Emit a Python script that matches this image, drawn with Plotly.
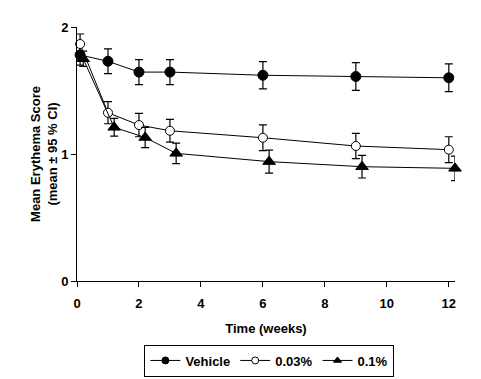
import plotly.graph_objects as go

weeks_vehicle = [0.1, 1.0, 2.0, 3.0, 6.0, 9.0, 12.0]
vehicle = [1.78, 1.73, 1.645, 1.645, 1.62, 1.61, 1.60]
vehicle_ci = [0.08, 0.097, 0.098, 0.098, 0.107, 0.109, 0.109]

weeks_003 = [0.1, 1.0, 2.0, 3.0, 6.0, 9.0, 12.0]
dose_003 = [1.866, 1.325, 1.228, 1.183, 1.128, 1.063, 1.034]
dose_003_ci = [0.079, 0.087, 0.092, 0.09, 0.102, 0.10, 0.102]

weeks_01 = [0.2, 1.2, 2.2, 3.2, 6.2, 9.2, 12.2]
dose_01 = [1.75, 1.21, 1.13, 1.005, 0.94, 0.90, 0.887]
dose_01_ci = [0.06, 0.07, 0.08, 0.08, 0.09, 0.089, 0.097]

series_names = ["Vehicle", "0.03%", "0.1%"]
font_family = "Liberation Sans, Arial, sans-serif"

fig = go.Figure()

def add(name, x, y, err, symbol, fill, msize):
    fig.add_trace(go.Scatter(
        x=x, y=y, name=name, mode="lines+markers", showlegend=False,
        line=dict(color="black", width=1),
        marker=dict(symbol=symbol, size=msize, color=fill,
                    line=dict(color="black", width=1)),
        error_y=dict(type="data", array=err, visible=True,
                     color="black", thickness=1.2, width=4),
        cliponaxis=False,
    ))
    # legend entry with smaller symbol
    fig.add_trace(go.Scatter(
        x=[None], y=[None], name=name, mode="lines+markers",
        line=dict(color="black", width=1),
        marker=dict(symbol=symbol, size=7, color=fill,
                    line=dict(color="black", width=1)),
    ))

add(series_names[0], weeks_vehicle, vehicle, vehicle_ci, "circle", "black", 10)
add(series_names[1], weeks_003, dose_003, dose_003_ci, "circle", "white", 9)
add(series_names[2], weeks_01, dose_01, dose_01_ci, "triangle-up", "black", 11)

# page body has an 8px margin, so the figure is offset by 8px
fig.update_layout(
    width=473, height=371,
    margin=dict(l=69, r=26, t=19, b=98, autoexpand=False),
    paper_bgcolor="white", plot_bgcolor="white",
    font=dict(family=font_family, size=13, color="black"),
    showlegend=True,
    legend=dict(
        orientation="h", x=0.509, xanchor="center", y=-0.313, yanchor="middle",
        bordercolor="black", borderwidth=1,
        font=dict(family=font_family, size=13, color="black", weight="bold"),
        itemwidth=30, tracegroupgap=0,
    ),
)

fig.update_xaxes(
    range=[0, 12.2], tickvals=[0, 2, 4, 6, 8, 10, 12], automargin=False,
    showgrid=False, zeroline=False, showline=True, linecolor="black", linewidth=1,
    ticks="outside", ticklen=5, tickcolor="black", ticklabelstandoff=5,
    tickfont=dict(family=font_family, size=13, weight="bold"),
    title=dict(text="Time (weeks)", font=dict(family=font_family, size=13, weight="bold"), standoff=14),
)
fig.update_yaxes(
    range=[0, 2], tickvals=[0, 1, 2], automargin=False,
    showgrid=False, zeroline=False, showline=True, linecolor="black", linewidth=1,
    ticks="outside", ticklen=5, tickcolor="black",
    tickfont=dict(family=font_family, size=13, weight="bold"),
    title=dict(text="Mean Erythema Score<br>(mean ± 95 % CI)",
               font=dict(family=font_family, size=13, weight="bold"), standoff=0),
)

fig.write_html("out.html")
